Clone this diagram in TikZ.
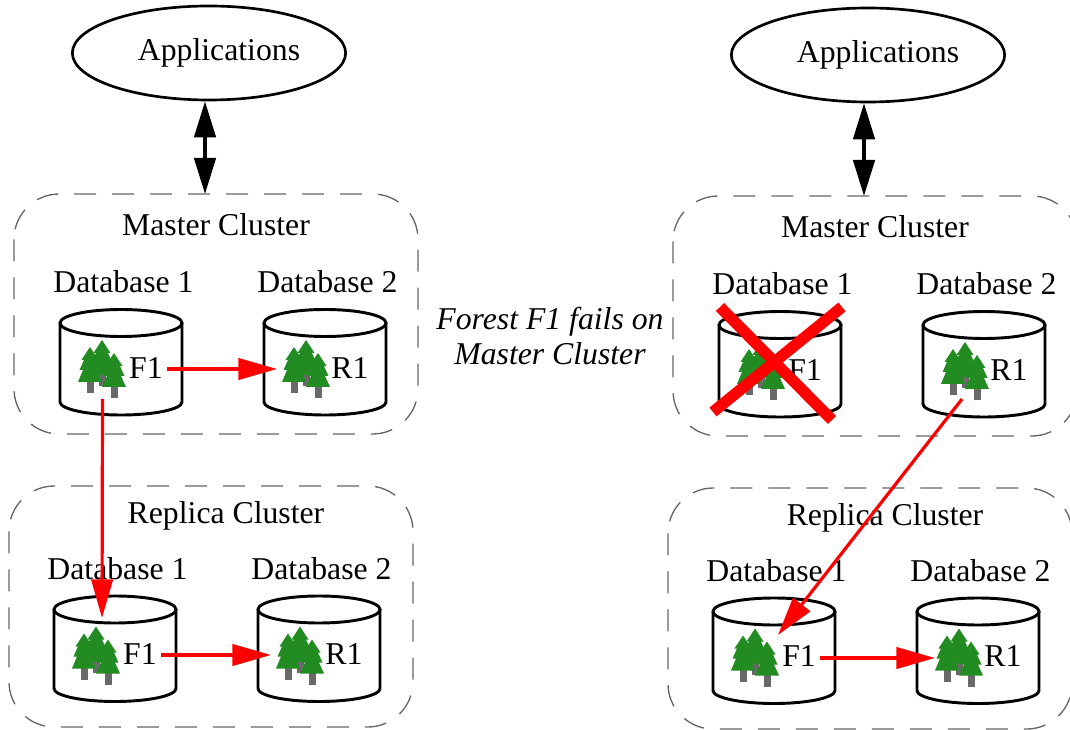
\documentclass[tikz,border=0pt]{standalone}
\usepackage{fontspec}
\setmainfont{Liberation Serif}
\usetikzlibrary{arrows.meta,shapes.geometric}
\definecolor{treegreen}{RGB}{34,139,34}
\definecolor{trunkgray}{RGB}{105,105,105}
\tikzset{
  x=0.75pt,y=-0.75pt,
  lbl/.style={inner sep=0pt,font=\fontsize{23.8pt}{26pt}\selectfont},
  cluster/.style={draw=black!60,line width=1pt,dash pattern=on 16.5pt off 12pt,rounded corners=34pt},
  appellipse/.style={ellipse,draw,line width=2pt,minimum width=205pt,minimum height=70.5pt,inner sep=0pt},
  bothways/.style={line width=2.6pt,{Triangle[length=27pt,width=16pt]}-{Triangle[length=27pt,width=16pt]}},
  redflow/.style={draw=red,line width=2.4pt,-{Triangle[length=29pt,width=16pt]}},
  cyl/.style={line width=2.2pt,draw=black},
  failx/.style={draw=red,line width=8.5pt},
}
\newcommand{\onetree}[4]{% x, top y, tier bottom, trunk bottom
  \fill[trunkgray] (#1-3.5,#3-6) rectangle (#1+3.5,#4);
  \fill[treegreen] (#1,#2) -- (#1+8.5,#2+13) -- (#1+6,#2+13) -- (#1+10.5,#2+23) -- (#1+7,#2+23) -- (#1+12,#3) -- (#1-12,#3) -- (#1-7,#2+23) -- (#1-10.5,#2+23) -- (#1-6,#2+13) -- (#1-8.5,#2+13) -- cycle;
}
\newcommand{\dbunit}[4]{% prefix, cx, cy, title
  \begin{scope}[shift={(#2,#3)}]
    \draw[cyl,fill=white] (-61,0) -- (-61,79) arc[x radius=61,y radius=13,start angle=180,end angle=0] -- (61,0);
    \draw[cyl,fill=white] (0,0) ellipse[x radius=61,y radius=13.5];
    \onetree{-19}{17}{52}{63}
    \onetree{-31}{24}{59}{70}
    \onetree{-7}{30}{64}{75}
    \node[lbl] (#1t) at (2.5,-41) {#4};
  \end{scope}
}
\newcommand{\side}[3]{% prefix, dx, dy
  \begin{scope}[shift={(#2,#3)}]
    \node[appellipse] (#1app) at (209,53) {};
    \node[lbl] (#1apt) at (219,53) {Applications};
    \draw[cluster] (14,194) rectangle (418,434);
    \draw[cluster] (9,486) rectangle (413,727);
    \coordinate (#1mtop) at (205,194);
    \draw[bothways] (#1mtop |- #1app.south) -- (#1mtop);
    \node[lbl] (#1mc) at (216,225) {Master Cluster};
    \node[lbl] (#1rc) at (226,516) {Replica Cluster};
    \dbunit{#1ma}{121}{323}{Database 1}
    \dbunit{#1mb}{325}{323}{Database 2}
    \dbunit{#1ra}{115}{609.5}{Database 1}
    \dbunit{#1rb}{319}{609.5}{Database 2}
    \node[lbl] (#1maf) at (146,368) {F1};
    \node[lbl] (#1mbf) at (350,368) {R1};
    \node[lbl] (#1raf) at (140,654) {F1};
    \node[lbl] (#1rbf) at (344,654) {R1};
  \end{scope}
}
\begin{document}
\begin{tikzpicture}
\useasboundingbox (0,0) rectangle (1070,730);
\clip (0,0) rectangle (1070,730);
\side{l}{0}{0}
\side{r}{659}{2}
\coordinate (lmbt) at (277,369);
\coordinate (lrbt) at (271,655);
\coordinate (lrat) at (102,618);
\coordinate (lmas) at (102.5,399);
\coordinate (rrbt) at (935,658);
\coordinate (rmbs) at (962,399);
\coordinate (rrat) at (778,635);
\draw[redflow] (lmaf.east) ++(4,1) -- (lmbt);
\draw[redflow] (lraf.east) ++(4,1) -- (lrbt);
\draw[redflow] (lmas) -- (lrat);
\draw[redflow] (rraf.east) ++(4,2) -- (rrbt);
\draw[redflow] (rmbs) -- (rrat);
\node[lbl,align=center,font=\fontsize{23.8pt}{26.5pt}\selectfont\itshape] (note) at (550,336) {Forest F1 fails on\\Master Cluster\hspace{3.75pt}};
\coordinate (xa) at (720,307);
\coordinate (xb) at (832,420);
\coordinate (xc) at (842,307);
\coordinate (xd) at (713,412);
\draw[failx] (xa) -- (xb);
\draw[failx] (xc) -- (xd);
\end{tikzpicture}
\end{document}
